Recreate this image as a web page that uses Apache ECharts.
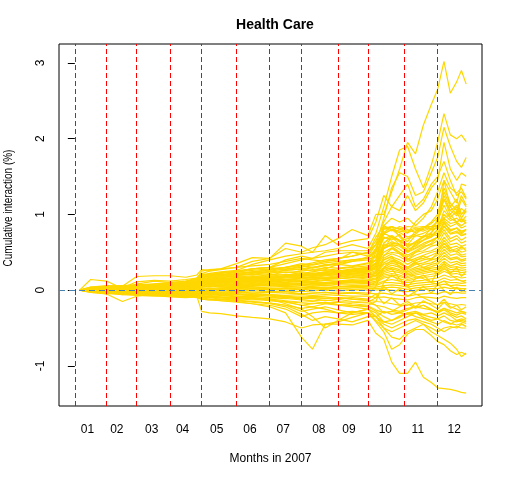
<!DOCTYPE html>
<html>
<head>
<meta charset="utf-8">
<title>Health Care</title>
<script src="https://cdn.jsdelivr.net/npm/echarts@6.0.0/dist/echarts.min.js"></script>
<style>
  html, body { margin: 0; padding: 0; background: #fff; }
  #main { width: 512px; height: 480px; }
</style>
</head>
<body>
<div id="main"></div>
<script>
// trading day index of each sample
var days = [3,10,20,30,39,50,60,70,77, 80,85,92,102,112,123,133,143,150,158,166,175,185, 190,195,200,205,210,215,220,225,229,233,237,241,244,247];

// first trading day of each month (red lines)
var monthStarts = [0,20,39,60,80,102,123,143,166,185,208,229];
var labelDays = [8,26.5,48.5,68,89.5,110.5,131.5,154,173,196,216.5,239.5];
var monthLabels = ['01','02','03','04','05','06','07','08','09','10','11','12'];
var yTicks = [-1,0,1,2,3];

// upper outliers
var u1 = [0,0.04,0.06,0.05,0.07,0.08,0.1,0.12,0.16, 0.22,0.25,0.27,0.3,0.38,0.42,0.55,0.5,0.56,0.6,0.68,0.8,0.72, 1.0,1.0,1.3,1.6,1.95,1.8,2.18,2.45,2.65,3.02,2.6,2.75,2.9,2.72];
var u2 = [0,0.03,0.04,0.05,0.06,0.07,0.08,0.1,0.14, 0.2,0.22,0.24,0.26,0.34,0.4,0.45,0.48,0.5,0.52,0.55,0.6,0.55, 0.75,1.1,1.5,1.85,1.9,1.6,1.35,1.65,1.95,2.33,2.05,2.0,2.05,1.96];
var u3 = [0,0.02,0.04,0.04,0.05,0.06,0.07,0.09,0.12, 0.18,0.2,0.22,0.24,0.28,0.3,0.35,0.4,0.42,0.45,0.48,0.5,0.45, 0.6,0.95,1.35,1.55,1.5,1.25,1.3,1.55,1.75,2.15,1.9,1.7,1.62,1.75];
var u4 = [0,0.02,0.03,0.04,0.05,0.05,0.06,0.08,0.11, 0.16,0.18,0.19,0.21,0.24,0.27,0.3,0.33,0.36,0.4,0.42,0.45,0.5, 0.65,0.9,1.1,1.05,1.25,1.05,1.15,1.35,1.45,1.95,1.6,1.45,1.55,1.5];
var u5 = [0,0.01,0.03,0.03,0.04,0.05,0.06,0.07,0.1, 0.15,0.17,0.18,0.2,0.22,0.25,0.28,0.3,0.34,0.38,0.4,0.5,0.48, 0.7,0.85,0.95,0.9,0.95,0.85,0.95,1.1,1.3,1.55,1.35,1.28,1.35,1.22];
var u6 = [0,0.02,0.02,0.03,0.04,0.04,0.05,0.07,0.1, 0.14,0.16,0.17,0.19,0.21,0.24,0.26,0.28,0.3,0.33,0.36,0.4,0.42, 0.55,0.75,0.8,0.82,0.75,0.9,1.0,1.05,1.2,1.45,1.3,1.15,1.4,1.38];
var u7 = [0,0.03,0.05,0.06,0.06,0.08,0.09,0.1,0.15, 0.25,0.27,0.28,0.35,0.43,0.42,0.62,0.58,0.5,0.72,0.6,0.65,0.68, 0.9,1.25,1.1,1.25,1.4,1.1,1.2,1.4,1.5,1.7,1.45,1.25,1.3,1.2];
var u8 = [0,0.02,0.03,0.04,0.05,0.06,0.07,0.09,0.12, 0.2,0.21,0.22,0.25,0.28,0.3,0.4,0.45,0.42,0.5,0.52,0.52,0.52, 0.6,0.82,0.84,0.8,0.84,0.83,0.84,0.84,0.84,1.0,0.92,0.95,0.9,0.92];

// early movers
var e1 = [0,0.14,0.12,0.02,0.08,0.12,0.1,0.12,0.14, 0.2,0.22,0.2,0.24,0.26,0.28,0.3,0.33,0.3,0.32,0.35,0.38,0.4, 0.45,0.55,0.6,0.58,0.5,0.55,0.6,0.65,0.7,0.85,0.75,0.78,0.72,0.75];
var e2 = [0,-0.02,-0.05,-0.15,-0.08,-0.05,-0.06,-0.08,-0.06, -0.1,-0.08,-0.1,-0.12,-0.1,-0.14,-0.15,-0.2,-0.22,-0.18,-0.2,-0.22,-0.25, -0.35,-0.28,-0.32,-0.3,-0.26,-0.22,-0.2,-0.25,-0.3,-0.24,-0.3,-0.33,-0.3,-0.32];
var e3 = [0,0.02,0.03,0.05,0.18,0.19,0.19,0.17,0.2, 0.27,0.26,0.28,0.3,0.32,0.34,0.38,0.42,0.4,0.38,0.42,0.45,0.5, 0.6,0.75,0.7,0.65,0.68,0.72,0.75,0.8,0.82,0.95,0.88,0.9,0.85,0.9];
var e4 = [0,0.01,0.02,0.03,0.11,0.13,0.12,0.14,0.16, 0.2,0.19,0.2,0.22,0.24,0.26,0.3,0.35,0.33,0.36,0.38,0.4,0.42, 0.5,0.68,0.72,0.66,0.6,0.62,0.66,0.7,0.76,0.88,0.8,0.82,0.78,0.8];

// lower outliers
var l1 = [0,0,-0.01,-0.02,-0.03,-0.03,-0.04,-0.05,-0.08, -0.28,-0.3,-0.31,-0.34,-0.36,-0.38,-0.42,-0.5,-0.46,-0.45,-0.45,-0.46,-0.4, -0.57,-0.65,-0.95,-1.1,-1.1,-0.95,-1.15,-1.22,-1.29,-1.3,-1.31,-1.33,-1.35,-1.36];
var l2 = [0,-0.01,-0.02,-0.03,-0.02,-0.04,-0.05,-0.06,-0.08, -0.12,-0.13,-0.14,-0.16,-0.18,-0.2,-0.25,-0.35,-0.3,-0.28,-0.3,-0.32,-0.3, -0.42,-0.55,-0.78,-0.72,-0.58,-0.52,-0.52,-0.6,-0.68,-0.72,-0.8,-0.85,-0.82,-0.85];
var l3 = [0,-0.01,-0.01,-0.02,-0.03,-0.03,-0.04,-0.04,-0.06, -0.1,-0.1,-0.12,-0.13,-0.15,-0.17,-0.2,-0.28,-0.25,-0.22,-0.26,-0.3,-0.25, -0.35,-0.5,-0.62,-0.65,-0.55,-0.5,-0.45,-0.55,-0.6,-0.65,-0.7,-0.78,-0.88,-0.83];
var l4 = [0,-0.01,0,-0.02,-0.02,-0.03,-0.03,-0.04,-0.05, -0.1,-0.12,-0.14,-0.15,-0.18,-0.22,-0.3,-0.62,-0.78,-0.45,-0.42,-0.36,-0.3, -0.4,-0.5,-0.55,-0.5,-0.45,-0.4,-0.45,-0.5,-0.55,-0.5,-0.48,-0.5,-0.45,-0.48];
var l5 = [0,-0.01,-0.02,-0.03,-0.04,-0.05,-0.06,-0.07,-0.08, -0.12,-0.12,-0.13,-0.14,-0.16,-0.18,-0.22,-0.32,-0.4,-0.35,-0.38,-0.42,-0.35, -0.35,-0.45,-0.5,-0.45,-0.4,-0.38,-0.42,-0.45,-0.5,-0.55,-0.5,-0.48,-0.5,-0.5];
var l6 = [0,0,-0.01,-0.01,-0.02,-0.02,-0.03,-0.03,-0.04, -0.05,-0.06,-0.07,-0.08,-0.1,-0.12,-0.18,-0.25,-0.35,-0.5,-0.4,-0.3,-0.25, -0.3,-0.42,-0.45,-0.4,-0.35,-0.3,-0.36,-0.4,-0.38,-0.42,-0.45,-0.4,-0.42,-0.44];

// main band
var p1 = [0,0.04,0.05,0.06,0.07,0.08,0.09,0.11,0.15, 0.22,0.2,0.23,0.25,0.28,0.3,0.27,0.32,0.29,0.34,0.33,0.38,0.44, 0.52,0.84,0.8,0.72,0.64,0.78,0.84,0.8,0.92,1.12,0.96,1.04,0.9,0.98];
var p2 = [0,0.02,0.05,0.04,0.06,0.05,0.08,0.09,0.13, 0.2,0.21,0.19,0.24,0.23,0.27,0.3,0.26,0.3,0.28,0.34,0.32,0.36, 0.44,0.76,0.84,0.7,0.6,0.72,0.7,0.82,0.86,0.96,1.0,0.9,0.94,0.88];
var p3 = [0,0.03,0.02,0.05,0.04,0.06,0.05,0.08,0.12, 0.18,0.19,0.21,0.2,0.24,0.22,0.26,0.28,0.25,0.3,0.29,0.31,0.35, 0.4,0.7,0.66,0.74,0.56,0.64,0.72,0.7,0.8,0.92,0.84,0.88,0.82,0.85];
var p4 = [0,0.02,0.04,0.03,0.05,0.04,0.06,0.07,0.11, 0.19,0.17,0.18,0.21,0.2,0.24,0.23,0.25,0.27,0.26,0.28,0.3,0.32, 0.4,0.62,0.72,0.64,0.5,0.6,0.66,0.74,0.72,0.9,0.78,0.82,0.76,0.8];
var p5 = [0,0.01,0.03,0.04,0.03,0.05,0.04,0.06,0.1, 0.17,0.18,0.16,0.19,0.21,0.2,0.24,0.22,0.24,0.27,0.25,0.28,0.3, 0.36,0.58,0.64,0.6,0.52,0.56,0.62,0.66,0.7,0.84,0.74,0.76,0.72,0.74];
var p6 = [0,0.02,0.01,0.03,0.04,0.03,0.05,0.06,0.09, 0.16,0.15,0.17,0.18,0.17,0.21,0.2,0.23,0.21,0.24,0.26,0.25,0.29, 0.34,0.55,0.6,0.54,0.46,0.52,0.58,0.6,0.66,0.8,0.68,0.72,0.66,0.7];
var p7 = [0,0.01,0.02,0.02,0.03,0.04,0.03,0.05,0.08, 0.15,0.14,0.16,0.15,0.18,0.19,0.18,0.21,0.22,0.21,0.24,0.26,0.27, 0.32,0.5,0.56,0.5,0.44,0.5,0.52,0.58,0.6,0.76,0.64,0.68,0.62,0.65];
var p8 = [0,0.02,0.02,0.01,0.03,0.02,0.04,0.05,0.08, 0.14,0.15,0.13,0.16,0.17,0.16,0.19,0.2,0.19,0.22,0.21,0.24,0.25, 0.3,0.46,0.5,0.48,0.4,0.46,0.5,0.52,0.56,0.7,0.6,0.62,0.58,0.6];
var p9 = [0,0.01,0.01,0.02,0.02,0.03,0.03,0.04,0.07, 0.13,0.12,0.14,0.15,0.14,0.17,0.16,0.18,0.2,0.19,0.21,0.22,0.24, 0.28,0.42,0.48,0.44,0.38,0.42,0.46,0.5,0.52,0.66,0.56,0.58,0.54,0.56];
var p10 = [0,0.01,0.02,0.01,0.02,0.02,0.03,0.04,0.06, 0.12,0.13,0.12,0.14,0.15,0.14,0.16,0.17,0.16,0.19,0.2,0.21,0.22, 0.26,0.4,0.44,0.4,0.34,0.4,0.42,0.46,0.5,0.62,0.52,0.55,0.5,0.52];
var p11 = [0,0,0.01,0.02,0.01,0.02,0.02,0.03,0.06, 0.11,0.12,0.11,0.13,0.13,0.15,0.14,0.16,0.17,0.16,0.18,0.2,0.21, 0.24,0.36,0.42,0.37,0.3,0.36,0.4,0.42,0.46,0.58,0.5,0.52,0.46,0.48];
var p12 = [0,0.01,0,0.01,0.02,0.01,0.02,0.03,0.05, 0.1,0.11,0.1,0.12,0.12,0.13,0.14,0.15,0.14,0.16,0.17,0.18,0.2, 0.22,0.34,0.38,0.35,0.28,0.34,0.36,0.4,0.42,0.54,0.46,0.48,0.44,0.45];
var p13 = [0,0,0.01,0,0.01,0.02,0.01,0.02,0.05, 0.1,0.09,0.11,0.1,0.12,0.12,0.13,0.12,0.14,0.15,0.15,0.17,0.18, 0.2,0.3,0.36,0.32,0.26,0.3,0.34,0.36,0.4,0.5,0.42,0.44,0.4,0.42];
var p14 = [0,0.01,0,0.01,0,0.01,0.02,0.02,0.04, 0.09,0.1,0.09,0.11,0.1,0.12,0.11,0.13,0.12,0.14,0.15,0.16,0.17, 0.19,0.28,0.33,0.3,0.24,0.28,0.3,0.34,0.36,0.46,0.4,0.42,0.38,0.4];
var p15 = [0,0,0.01,0,0.01,0,0.01,0.02,0.04, 0.08,0.09,0.08,0.1,0.09,0.11,0.1,0.12,0.11,0.13,0.12,0.14,0.16, 0.18,0.26,0.3,0.27,0.22,0.26,0.28,0.31,0.34,0.42,0.36,0.38,0.35,0.36];
var p16 = [0,0,0,0.01,0,0.01,0,0.01,0.03, 0.07,0.08,0.07,0.09,0.08,0.1,0.09,0.1,0.11,0.1,0.12,0.13,0.14, 0.16,0.24,0.28,0.25,0.2,0.24,0.26,0.29,0.3,0.38,0.32,0.35,0.32,0.33];
var p17 = [0,0,0.01,0,0,0,0.01,0.01,0.03, 0.06,0.07,0.06,0.08,0.07,0.09,0.08,0.09,0.1,0.09,0.11,0.12,0.13, 0.15,0.22,0.25,0.23,0.18,0.22,0.24,0.26,0.28,0.35,0.3,0.31,0.29,0.3];
var p18 = [0,0,-0.01,0,0.01,0,0,0.01,0.02, 0.06,0.05,0.07,0.06,0.08,0.07,0.08,0.07,0.09,0.1,0.09,0.11,0.12, 0.14,0.2,0.22,0.2,0.16,0.2,0.22,0.24,0.25,0.32,0.27,0.28,0.26,0.27];
var p19 = [0,-0.01,0,0,-0.01,0,0,0,0.02, 0.05,0.06,0.05,0.06,0.06,0.07,0.06,0.08,0.07,0.08,0.09,0.1,0.1, 0.12,0.18,0.2,0.18,0.14,0.17,0.19,0.21,0.22,0.28,0.24,0.25,0.23,0.24];
var p20 = [0,0,-0.01,-0.01,0,-0.01,0,0,0.02, 0.04,0.05,0.04,0.05,0.05,0.06,0.05,0.06,0.07,0.06,0.08,0.08,0.09, 0.1,0.16,0.18,0.15,0.12,0.15,0.17,0.18,0.2,0.25,0.21,0.22,0.2,0.21];

// jump in october
var j1 = [0,0.01,0.02,0.03,0.02,0.04,0.05,0.06,0.09, 0.14,0.16,0.15,0.17,0.19,0.18,0.21,0.2,0.22,0.24,0.23,0.26,0.3, 0.4,0.8,0.84,0.8,0.78,0.82,0.8,0.84,0.9,1.2,1.05,0.98,1.08,1.02];
var j2 = [0,0.01,0.01,0.02,0.03,0.03,0.04,0.05,0.08, 0.13,0.12,0.14,0.16,0.15,0.17,0.19,0.18,0.2,0.22,0.21,0.24,0.27, 0.36,0.74,0.8,0.78,0.76,0.8,0.78,0.82,0.86,1.3,1.1,1.0,1.2,1.1];
var j3 = [0,0.02,0.01,0.03,0.02,0.04,0.03,0.05,0.08, 0.12,0.14,0.13,0.15,0.14,0.16,0.18,0.2,0.19,0.21,0.23,0.22,0.25, 0.32,0.62,0.7,0.65,0.58,0.64,0.7,0.76,0.85,1.45,1.1,1.2,1.0,1.05];
var j4 = [0,0,0.01,0.02,0.02,0.01,0.03,0.04,0.06, 0.1,0.11,0.12,0.11,0.13,0.15,0.14,0.16,0.18,0.17,0.19,0.21,0.24, 0.3,0.55,0.62,0.6,0.54,0.58,0.66,0.72,0.8,1.05,0.95,0.9,0.94,0.92];
var j5 = [0,0.01,0.02,0.02,0.03,0.03,0.04,0.05,0.08, 0.14,0.13,0.15,0.17,0.16,0.19,0.18,0.2,0.22,0.21,0.24,0.25,0.28, 0.35,0.6,0.58,0.5,0.42,0.36,0.3,0.26,0.22,0.3,0.2,0.15,0.12,0.1];
var j6 = [0,0.01,0.01,0.01,0.02,0.02,0.03,0.03,0.06, 0.11,0.1,0.12,0.13,0.12,0.14,0.13,0.15,0.16,0.15,0.17,0.19,0.2, 0.22,0.4,0.45,0.3,0.22,0.18,0.15,0.1,0.08,0.12,0.05,0.02,0,-0.02];
var j7 = [0,0,0.01,0,0.01,0.02,0.02,0.03,0.05, 0.09,0.1,0.1,0.11,0.12,0.13,0.14,0.13,0.15,0.16,0.15,0.17,0.18, 0.2,0.3,0.28,0.15,0.05,-0.05,-0.1,-0.15,-0.2,-0.12,-0.22,-0.25,-0.28,-0.3];
var q5 = [0,0,0.01,0.01,0,0.01,0.02,0.01,0.03, 0.05,0.04,0.06,0.05,0.07,0.06,0.08,0.07,0.09,0.08,0.1,0.11,0.12, 0.25,0.55,0.7,0.6,0.5,0.62,0.7,0.75,0.95,1.2,1.0,1.1,0.95,1.05];
var q6 = [0,0.01,0.02,0.01,0.03,0.02,0.03,0.04,0.06, 0.12,0.11,0.13,0.14,0.16,0.15,0.17,0.19,0.18,0.2,0.22,0.24,0.26, 0.5,0.82,0.78,0.84,0.8,0.76,0.82,0.9,1.0,1.35,1.15,1.05,1.25,1.12];
var q7 = [0,0.01,0.01,0.02,0.02,0.03,0.04,0.04,0.07, 0.13,0.12,0.14,0.15,0.17,0.16,0.19,0.21,0.2,0.23,0.25,0.27,0.3, 0.55,0.85,0.8,0.76,0.7,0.74,0.82,0.88,0.96,1.25,1.05,1.12,1.0,1.08];
var q8 = [0,-0.01,0,-0.02,-0.01,-0.03,-0.02,-0.04,-0.03, 0,-0.02,0.01,-0.01,0.02,0,0.03,0.01,0.04,0.02,0.05,0.04,0.06, 0.1,0.45,0.55,0.48,0.4,0.5,0.56,0.62,0.7,0.9,0.78,0.82,0.74,0.8];

// near zero and below
var n1 = [0,0,-0.01,0,-0.01,-0.02,-0.01,-0.01,0.01, 0.03,0.02,0.03,0.04,0.03,0.04,0.05,0.04,0.05,0.06,0.05,0.06,0.07, 0.08,0.12,0.14,0.12,0.1,0.12,0.13,0.15,0.16,0.2,0.17,0.18,0.16,0.17];
var n2 = [0,-0.01,-0.02,-0.01,-0.02,-0.01,-0.02,-0.01,0, 0.02,0.01,0.02,0.02,0.03,0.02,0.03,0.03,0.04,0.03,0.04,0.05,0.05, 0.06,0.1,0.1,0.09,0.07,0.09,0.1,0.11,0.12,0.16,0.13,0.14,0.12,0.13];
var n3 = [0,-0.01,-0.02,-0.02,-0.03,-0.02,-0.03,-0.02,-0.01, 0.01,0,0.01,0.01,0.02,0.01,0.02,0.01,0.02,0.03,0.02,0.03,0.04, 0.04,0.06,0.07,0.06,0.04,0.06,0.07,0.08,0.09,0.12,0.1,0.1,0.09,0.1];
var n4 = [0,-0.02,-0.03,-0.03,-0.04,-0.03,-0.04,-0.03,-0.02, 0,-0.01,0,-0.01,0,0.01,0,0.01,0,0.01,0.02,0.01,0.02, 0.02,0.03,0.04,0.03,0.01,0.03,0.04,0.05,0.06,0.08,0.06,0.07,0.06,0.06];
var n5 = [0,-0.02,-0.03,-0.04,-0.05,-0.04,-0.05,-0.04,-0.03, -0.01,-0.02,-0.01,-0.02,-0.01,-0.02,-0.01,-0.02,-0.01,0,-0.01,0,0, 0,0.01,0,-0.01,-0.02,0,0.01,0.02,0.02,0.04,0.02,0.03,0.02,0.02];
var n6 = [0,-0.02,-0.04,-0.05,-0.05,-0.06,-0.06,-0.05,-0.04, -0.03,-0.03,-0.04,-0.03,-0.04,-0.03,-0.04,-0.05,-0.04,-0.03,-0.04,-0.03,-0.04, -0.05,-0.04,-0.06,-0.07,-0.08,-0.06,-0.05,-0.04,-0.05,-0.02,-0.04,-0.03,-0.04,-0.04];
var n7 = [0,-0.03,-0.04,-0.05,-0.06,-0.07,-0.07,-0.08,-0.06, -0.05,-0.04,-0.05,-0.06,-0.05,-0.06,-0.07,-0.06,-0.07,-0.06,-0.07,-0.08,-0.08, -0.1,-0.09,-0.11,-0.12,-0.13,-0.1,-0.09,-0.1,-0.11,-0.08,-0.1,-0.11,-0.1,-0.1];
var n8 = [0,-0.02,-0.03,-0.06,-0.07,-0.08,-0.08,-0.09,-0.08, -0.06,-0.07,-0.06,-0.08,-0.07,-0.08,-0.1,-0.09,-0.1,-0.11,-0.1,-0.12,-0.13, -0.15,-0.16,-0.18,-0.2,-0.2,-0.17,-0.16,-0.18,-0.19,-0.16,-0.18,-0.2,-0.19,-0.2];
var n9 = [0,-0.03,-0.05,-0.04,-0.06,-0.07,-0.09,-0.1,-0.09, -0.08,-0.08,-0.09,-0.1,-0.1,-0.12,-0.11,-0.13,-0.14,-0.13,-0.15,-0.16,-0.17, -0.2,-0.22,-0.26,-0.28,-0.24,-0.22,-0.24,-0.26,-0.28,-0.24,-0.27,-0.3,-0.28,-0.3];
var n10 = [0,-0.01,-0.03,-0.05,-0.05,-0.06,-0.07,-0.08,-0.07, -0.07,-0.09,-0.1,-0.11,-0.12,-0.14,-0.15,-0.17,-0.18,-0.17,-0.19,-0.2,-0.21, -0.26,-0.3,-0.28,-0.3,-0.32,-0.3,-0.33,-0.36,-0.38,-0.34,-0.4,-0.42,-0.4,-0.42];
var k1 = [0,-0.01,-0.01,-0.02,-0.03,-0.02,-0.03,-0.04,-0.03, -0.02,-0.03,-0.04,-0.05,-0.06,-0.07,-0.09,-0.12,-0.1,-0.11,-0.1,-0.12,-0.14, -0.2,-0.3,-0.28,-0.22,-0.18,-0.24,-0.2,-0.26,-0.3,-0.26,-0.32,-0.36,-0.34,-0.38];
var k2 = [0,0,-0.02,-0.03,-0.02,-0.04,-0.05,-0.04,-0.05, -0.08,-0.09,-0.1,-0.12,-0.11,-0.13,-0.16,-0.2,-0.18,-0.16,-0.19,-0.2,-0.22, -0.28,-0.35,-0.4,-0.36,-0.3,-0.35,-0.38,-0.42,-0.45,-0.4,-0.44,-0.46,-0.44,-0.48];
var k3 = [0,-0.02,-0.04,-0.06,-0.04,-0.05,-0.06,-0.08,-0.1, -0.12,-0.13,-0.12,-0.14,-0.15,-0.17,-0.2,-0.24,-0.22,-0.25,-0.3,-0.28,-0.3, -0.35,-0.42,-0.4,-0.34,-0.3,-0.28,-0.32,-0.3,-0.34,-0.3,-0.34,-0.4,-0.38,-0.4];
var q1 = [0,-0.01,-0.02,-0.03,-0.04,-0.04,-0.05,-0.06,-0.05, -0.04,-0.05,-0.06,-0.05,-0.07,-0.06,-0.08,-0.1,-0.08,-0.09,-0.11,-0.1,-0.12, -0.05,-0.18,-0.1,-0.2,-0.15,-0.22,-0.14,-0.2,-0.25,-0.16,-0.24,-0.2,-0.26,-0.22];
var q2 = [0,-0.02,-0.01,-0.03,-0.05,-0.06,-0.05,-0.07,-0.06, -0.06,-0.05,-0.07,-0.09,-0.08,-0.1,-0.09,-0.12,-0.11,-0.14,-0.12,-0.15,-0.16, -0.1,0.05,-0.05,0.02,-0.08,-0.02,0.05,-0.04,0.08,0,-0.06,0.04,-0.02,0.02];
var q3 = [0,-0.01,-0.03,-0.02,-0.04,-0.05,-0.04,-0.06,-0.07, -0.09,-0.1,-0.09,-0.11,-0.13,-0.12,-0.14,-0.16,-0.15,-0.17,-0.16,-0.18,-0.2, -0.15,0.1,0.2,0.12,0.05,0.15,0.2,0.1,0.25,0.35,0.22,0.3,0.18,0.25];
var q4 = [0,0.01,0,-0.01,-0.02,-0.01,-0.03,-0.02,-0.01, -0.02,-0.01,-0.03,-0.02,-0.04,-0.03,-0.02,-0.05,-0.04,-0.03,-0.05,-0.04,-0.06, 0.05,0.3,0.4,0.35,0.3,0.38,0.45,0.4,0.5,0.62,0.55,0.5,0.58,0.52];

var curves = [n10,n9,n8,n7,n6,n5,n4,n3,n2,n1,k1,k2,k3,q1,q2,q3,q4,
  p20,p19,p18,p17,p16,p15,p14,p13,p12,p11,p10,p9,p8,p7,p6,p5,p4,p3,p2,p1,
  j1,j2,j3,j4,j5,j6,j7,q5,q6,q7,q8,e1,e2,e3,e4,l1,l2,l3,l4,l5,l6,u8,u7,u6,u5,u4,u3,u2,u1];

var myChart = echarts.init(document.getElementById('main'));

var seriesList = curves.map(function (vals) {
  return {
    type: 'line',
    data: vals.map(function (v, i) { return [days[i], v]; }),
    showSymbol: false,
    silent: true,
    lineStyle: { color: '#FFD700', width: 1.2 },
    z: 2
  };
});

// month boundaries and the zero line on top of the curves
seriesList.push({
  type: 'line',
  data: [],
  silent: true,
  z: 5,
  markLine: {
    silent: true,
    symbol: 'none',
    animation: false,
    label: { show: false },
    data: monthStarts.map(function (d) {
      return { xAxis: d, lineStyle: { color: '#FF0000', type: [5, 3], width: 1 } };
    }).concat([{ yAxis: 0, lineStyle: { color: '#4682B4', type: [6, 4], width: 1.2 } }])
  }
});

var font = 'Liberation Sans, Arial, sans-serif';

option = {
  animation: false,
  backgroundColor: '#fff',
  title: {
    text: 'Health Care',
    left: 270,
    top: 13,
    textAlign: 'center',
    textStyle: { fontFamily: font, fontSize: 14, fontWeight: 'bold', color: '#000' }
  },
  grid: {
    left: 59, right: 30, top: 44, bottom: 74,
    show: true, borderColor: '#000', borderWidth: 1
  },
  xAxis: {
    type: 'value',
    min: -10,
    max: 257,
    name: 'Months in 2007',
    nameLocation: 'middle',
    nameGap: 47,
    nameTextStyle: { fontFamily: font, fontSize: 12, color: '#000' },
    axisLine: { show: false },
    splitLine: { show: false },
    axisTick: {
      show: true,
      customValues: monthStarts,
      length: 5,
      lineStyle: { color: '#FF0000', width: 1 }
    },
    axisLabel: {
      customValues: labelDays,
      margin: 18,
      fontFamily: font,
      fontSize: 12,
      color: '#000',
      formatter: function (v) {
        var k = labelDays.indexOf(v);
        return k >= 0 ? monthLabels[k] : '';
      }
    }
  },
  yAxis: {
    type: 'value',
    min: -1.53,
    max: 3.25,
    axisLine: { show: false },
    splitLine: { show: false },
    axisTick: {
      show: true,
      customValues: yTicks,
      length: 7,
      lineStyle: { color: '#000' }
    },
    axisLabel: {
      customValues: yTicks,
      rotate: 90,
      margin: 12,
      fontFamily: font,
      fontSize: 12,
      color: '#000'
    }
  },
  graphic: [{
    type: 'text',
    x: 9,
    y: 208,
    rotation: Math.PI / 2,
    scaleX: 0.83,
    style: {
      text: 'Cumulative interaction (%)',
      fontFamily: font,
      fontSize: 12,
      fill: '#000',
      align: 'center',
      verticalAlign: 'middle'
    }
  }],
  series: seriesList
};

myChart.setOption(option);
</script>
</body>
</html>
